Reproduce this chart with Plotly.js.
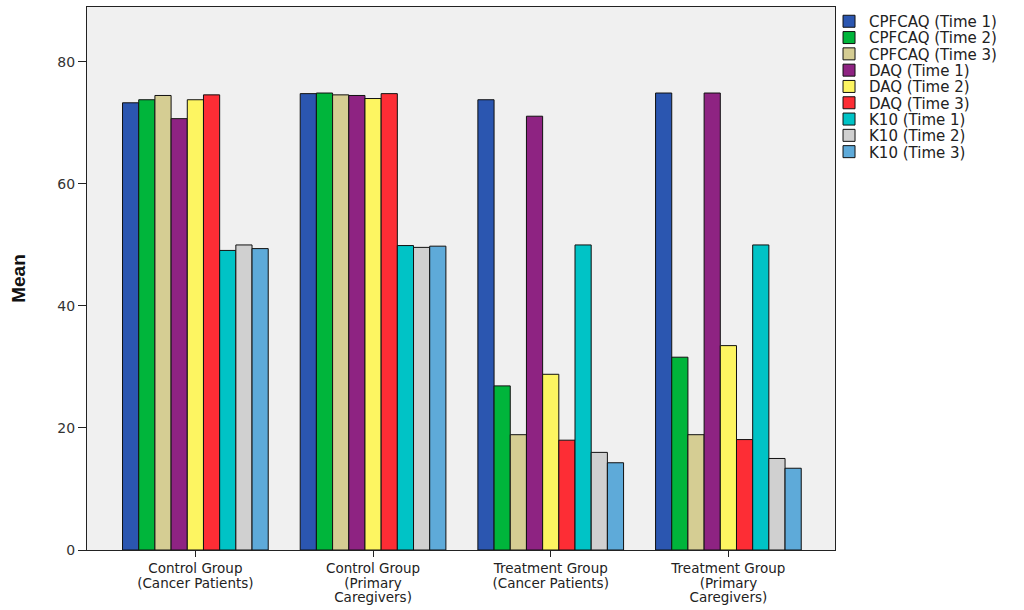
<!DOCTYPE html>
<html>
<head>
<meta charset="utf-8">
<script src="https://cdn.plot.ly/plotly-3.0.1.min.js"></script>
<style>
  html, body { margin: 0; padding: 0; background: #fff; }
  #chart { width: 1024px; height: 610px; }
</style>
</head>
<body>
<div id="chart"></div>
<script>
// Categories (x axis)
const groups = [
    'Control Group<br>(Cancer Patients)',
    'Control Group<br>(Primary<br>Caregivers)',
    'Treatment Group<br>(Cancer Patients)',
    'Treatment Group<br>(Primary<br>Caregivers)'
];

// Series names and means, one array per measure/time
const seriesNames = [
    'CPFCAQ (Time 1)', 'CPFCAQ (Time 2)', 'CPFCAQ (Time 3)',
    'DAQ (Time 1)', 'DAQ (Time 2)', 'DAQ (Time 3)',
    'K10 (Time 1)', 'K10 (Time 2)', 'K10 (Time 3)'
];
const cpfcaqT1 = [73.3, 74.8, 73.8, 74.9];
const cpfcaqT2 = [73.8, 74.9, 26.9, 31.6];
const cpfcaqT3 = [74.5, 74.6, 18.9, 18.9];
const daqT1 = [70.7, 74.5, 71.1, 74.9];
const daqT2 = [73.8, 74.0, 28.8, 33.5];
const daqT3 = [74.6, 74.8, 18.0, 18.1];
const k10T1 = [49.1, 49.9, 50.0, 50.0];
const k10T2 = [50.0, 49.6, 16.0, 15.0];
const k10T3 = [49.4, 49.8, 14.3, 13.4];

const seriesValues = [cpfcaqT1, cpfcaqT2, cpfcaqT3, daqT1, daqT2, daqT3, k10T1, k10T2, k10T3];
const seriesColors = [
    '#2b56b0', '#00b53b', '#d5cd93',
    '#8e2382', '#fdf561', '#fd2d35',
    '#00c3c6', '#d0d0d0', '#5eaad9'
];

const traces = seriesNames.map((name, i) => ({
    type: 'bar',
    name: name,
    x: groups,
    y: seriesValues[i],
    marker: { color: seriesColors[i], line: { color: '#111', width: 1 } },
    hoverinfo: 'name+y'
}));

const FONT = '"DejaVu Sans", Verdana, sans-serif';

const layout = {
    width: 1024,
    height: 610,
    paper_bgcolor: '#ffffff',
    plot_bgcolor: '#f0f0f0',
    font: { family: FONT, size: 13, color: '#222' },
    margin: { l: 87, r: 189, t: 7, b: 60 },
    barmode: 'group',
    bargap: 0.18,
    bargroupgap: 0,
    xaxis: {
        type: 'category',
        range: [-0.61, 3.6],
        showline: true,
        linecolor: '#222',
        linewidth: 1,
        mirror: true,
        ticks: 'outside',
        ticklen: 6,
        tickcolor: '#222',
        tickfont: { size: 13.5, color: '#222' },
        showgrid: false,
        zeroline: false,
        fixedrange: true
    },
    yaxis: {
        range: [0, 89],
        tickvals: [0, 20, 40, 60, 80],
        showline: true,
        linecolor: '#222',
        linewidth: 1,
        mirror: true,
        ticks: 'outside',
        ticklen: 8,
        tickcolor: '#222',
        tickfont: { size: 14, color: '#333' },
        showgrid: false,
        zeroline: false,
        title: {
            text: '<b>Mean</b>',
            font: { family: '"Liberation Sans Narrow", Arial, sans-serif', size: 19, color: '#111' },
            standoff: 26
        },
        fixedrange: true
    },
    showlegend: true,
    legend: {
        x: 0.992,
        xanchor: 'left',
        y: 1.0,
        yanchor: 'top',
        traceorder: 'normal',
        bgcolor: 'rgba(0,0,0,0)',
        font: { family: FONT, size: 15, color: '#222' },
        tracegroupgap: 0,
        itemwidth: 30
    }
};

Plotly.newPlot('chart', traces, layout, { displayModeBar: false, responsive: false }).then(() => {
    // tighten legend rows to the reference's spacing
    const items = document.querySelectorAll('#chart .legend .traces');
    if (items.length) {
        const m = /translate\(\s*([-\d.]+)[ ,]+([-\d.]+)/.exec(items[0].getAttribute('transform') || '');
        const x0 = m ? parseFloat(m[1]) : 0;
        const y0 = m ? parseFloat(m[2]) - 2 : 0;
        items.forEach((g, i) => {
            g.setAttribute('transform', `translate(${x0},${y0 + i * 16.3})`);
        });
    }
    // tighter line spacing for the wrapped category labels
    document.querySelectorAll('#chart .xtick text').forEach(t => {
        t.querySelectorAll('tspan.line').forEach((ts, i) => {
            if (i > 0) ts.setAttribute('dy', String(i * 14.5));
        });
    });
});
</script>
</body>
</html>
